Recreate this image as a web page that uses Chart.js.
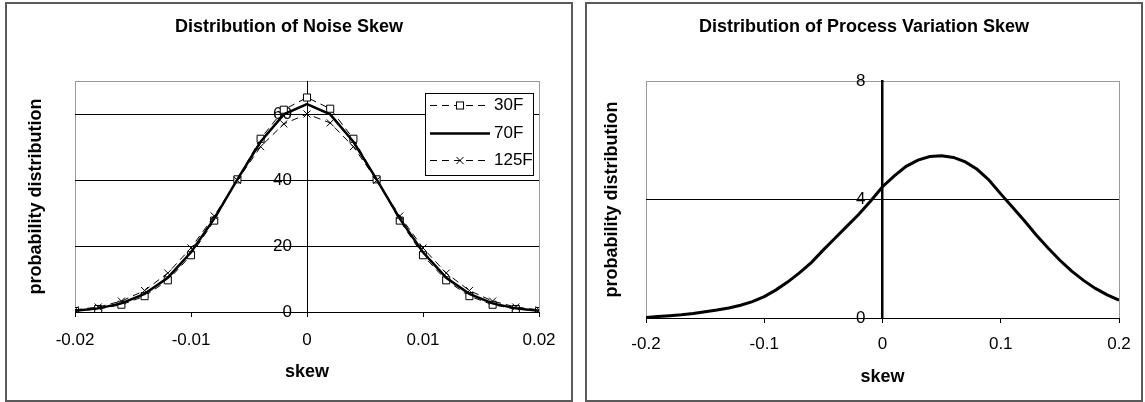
<!DOCTYPE html>
<html><head><meta charset="utf-8">
<script src="https://cdn.jsdelivr.net/npm/chart.js@4.4.1/dist/chart.umd.min.js"></script>
<style>
html,body{margin:0;padding:0;background:#fff;width:1145px;height:402px;overflow:hidden;}
.frame{position:absolute;border:2px solid #5a5a5a;box-sizing:border-box;}
.wrap{position:absolute;}
</style></head><body>
<div class="frame" style="left:5px;top:2px;width:568px;height:400px;"></div>
<div class="frame" style="left:585px;top:2px;width:558px;height:400px;"></div>
<div class="wrap" style="left:6px;top:3px;width:566px;height:398px;"><canvas id="c1" width="566" height="398"></canvas></div>
<div class="wrap" style="left:586px;top:3px;width:556px;height:398px;"><canvas id="c2" width="556" height="398"></canvas></div>
<script>
// ---- data: left chart (noise skew) ----
const skewNoise = [-0.02,-0.018,-0.016,-0.014,-0.012,-0.01,-0.008,-0.006,-0.004,-0.002,0,0.002,0.004,0.006,0.008,0.01,0.012,0.014,0.016,0.018,0.02];
const noise30F  = [0.3,0.9,2.2,4.8,9.6,17.2,27.7,40.2,52.5,61.3,65.0,61.6,52.5,40.2,27.7,17.2,9.6,4.8,2.2,0.9,0.3];
const noise70F  = [0.4,1.1,2.6,5.5,10.4,18.1,28.3,40.2,51.6,59.9,63.0,59.9,51.6,40.2,28.3,18.1,10.4,5.5,2.6,1.1,0.4];
const noise125F = [0.65,1.5,3.3,6.5,11.8,19.4,29.1,39.9,50.1,57.0,60.0,57.3,50.1,39.9,29.1,19.4,11.8,6.5,3.3,1.5,0.65];
const noiseSeriesNames = ['30F','70F','125F'];
const noiseTicksX = [-0.02,-0.01,0,0.01,0.02];
const noiseTicksY = [0,20,40,60];

// ---- data: right chart (process variation skew) ----
const skewProcess = [-0.2,-0.19,-0.18,-0.17,-0.16,-0.15,-0.14,-0.13,-0.12,-0.11,-0.1,-0.09,-0.08,-0.07,-0.06,-0.05,-0.04,-0.03,-0.02,-0.01,0,0.01,0.02,0.03,0.04,0.05,0.06,0.07,0.08,0.09,0.1,0.11,0.12,0.13,0.14,0.15,0.16,0.17,0.18,0.19,0.2];
const processDist = [0.02,0.05,0.08,0.11,0.15,0.21,0.27,0.34,0.43,0.55,0.72,0.95,1.22,1.53,1.88,2.30,2.70,3.10,3.50,3.95,4.43,4.80,5.12,5.33,5.45,5.48,5.42,5.27,5.02,4.66,4.19,3.74,3.28,2.80,2.36,1.95,1.58,1.27,1.00,0.78,0.60];
const processTicksX = [-0.2,-0.1,0,0.1,0.2];
const processTicksY = [0,4,8];

const FONT = "'Liberation Sans', Arial, sans-serif";
const fmt = v => String(Math.round(v * 1000) / 1000);
const pts = (xs, ys) => xs.map((x, i) => ({x: x, y: ys[i]}));

const plotFrame = {
  id: 'plotFrame',
  beforeDraw(chart) {
    const {ctx, chartArea: a} = chart;
    ctx.save();
    ctx.strokeStyle = '#9a9a9a';
    ctx.lineWidth = 1;
    ctx.strokeRect(Math.round(a.left) + 0.5, Math.round(a.top) + 0.5, Math.round(a.right - a.left), Math.round(a.bottom - a.top));
    ctx.restore();
  }
};

const noiseLegend = {
  id: 'noiseLegend',
  afterDatasetsDraw(chart) {
    const {ctx, chartArea: a} = chart;
    const w = 108, h = 82;
    const left = Math.round(a.right - 114), top = Math.round(a.top + 12);
    ctx.save();
    ctx.fillStyle = '#fff';
    ctx.fillRect(left, top, w, h);
    ctx.strokeStyle = '#000';
    ctx.lineWidth = 1;
    ctx.strokeRect(left + 0.5, top + 0.5, w, h);
    const rows = [12, 40, 67];
    chart.data.datasets.forEach((ds, i) => {
      const y = top + rows[i] + 0.5;
      ctx.setLineDash(ds.borderDash || []);
      ctx.lineWidth = ds.borderWidth;
      ctx.strokeStyle = '#000';
      ctx.beginPath(); ctx.moveTo(left + 5, y); ctx.lineTo(left + 65, y); ctx.stroke();
      ctx.setLineDash([]);
      ctx.lineWidth = 1;
      const cx = left + 35, r = ds.pointRadius;
      if (ds.pointStyle === 'rect' && r > 0) {
        const s = r * Math.SQRT1_2;
        ctx.fillStyle = '#fff';
        ctx.fillRect(cx - s, y - s, 2 * s, 2 * s);
        ctx.strokeRect(cx - s, y - s, 2 * s, 2 * s);
      } else if (ds.pointStyle === 'crossRot' && r > 0) {
        const s = r * Math.SQRT1_2;
        ctx.beginPath();
        ctx.moveTo(cx - s, y - s); ctx.lineTo(cx + s, y + s);
        ctx.moveTo(cx - s, y + s); ctx.lineTo(cx + s, y - s);
        ctx.stroke();
      }
      ctx.fillStyle = '#000';
      ctx.font = '17px ' + FONT;
      ctx.textBaseline = 'middle';
      ctx.textAlign = 'left';
      ctx.fillText(ds.label, left + 69, y);
    });
    ctx.restore();
  }
};

function baseOptions(cfg) {
  return {
    responsive: false,
    animation: false,
    devicePixelRatio: 1,
    layout: {padding: 0},
    plugins: {
      legend: {display: false},
      tooltip: {enabled: false},
      title: {display: true, text: cfg.title, color: '#000',
        font: {family: FONT, size: 18, weight: 'bold'},
        padding: {top: 13.2, bottom: 43.2}}
    },
    scales: {
      x: {
        type: 'linear', position: 'bottom', min: cfg.xTicks[0], max: cfg.xTicks[cfg.xTicks.length - 1],
        afterBuildTicks: s => { s.ticks = cfg.xTicks.map(v => ({value: v})); },
        ticks: {color: '#000', font: {family: FONT, size: 17}, padding: cfg.xTickPad, maxRotation: 0, autoSkip: false, callback: v => fmt(v)},
        grid: {drawOnChartArea: false, drawTicks: true, tickLength: 5, color: '#000'},
        border: {display: true, color: '#000', width: 1},
        title: {display: true, text: 'skew', color: '#000', font: {family: FONT, size: 18, weight: 'bold'}, padding: {top: 0, bottom: cfg.xTitlePad}},
        afterFit: s => { s.height = cfg.xHeight; }
      },
      y: {
        type: 'linear', position: 'center', min: 0, max: cfg.yMax,
        afterBuildTicks: s => { s.ticks = cfg.yTicks.map(v => ({value: v})); },
        ticks: {color: '#000', font: {family: FONT, size: 17}, padding: cfg.yTickPad, callback: v => fmt(v)},
        grid: {color: cfg.gridColor, lineWidth: 1, tickLength: 5, drawTicks: true},
        border: {display: true, color: '#000', width: cfg.yAxisWidth},
        afterFit: s => { s.width = 0; }
      },
      yTitle: {
        type: 'linear', position: 'left', display: true,
        ticks: {display: false}, grid: {display: false}, border: {display: false},
        title: {display: true, text: 'probability distribution', color: '#000', font: {family: FONT, size: 18, weight: 'bold'}, padding: {top: cfg.yTitlePad, bottom: 0}},
        afterFit: s => { s.width = cfg.leftW; }
      },
      yRight: {
        type: 'linear', position: 'right', display: true,
        ticks: {display: false}, grid: {display: false}, border: {display: false},
        afterFit: s => { s.width = cfg.rightW; }
      }
    }
  };
}

new Chart(document.getElementById('c1'), {
  type: 'line',
  data: {
    datasets: [
      {label: noiseSeriesNames[0], data: pts(skewNoise, noise30F), borderColor: '#000', borderWidth: 1, borderDash: [7, 5],
       pointStyle: 'rect', pointRadius: 5, pointBackgroundColor: '#fff', pointBorderColor: '#000', pointBorderWidth: 1, tension: 0, order: 3},
      {label: noiseSeriesNames[1], data: pts(skewNoise, noise70F), borderColor: '#000', borderWidth: 2.5,
       pointRadius: 0, tension: 0, order: 2},
      {label: noiseSeriesNames[2], data: pts(skewNoise, noise125F), borderColor: '#000', borderWidth: 1, borderDash: [7, 5],
       pointStyle: 'crossRot', pointRadius: 5, pointBackgroundColor: '#000', pointBorderColor: '#000', pointBorderWidth: 1, tension: 0, order: 1}
    ]
  },
  options: baseOptions({
    title: 'Distribution of Noise Skew', xTicks: noiseTicksX, yTicks: noiseTicksY, yMax: 70,
    xTickPad: 13, xTitlePad: 18, xHeight: 89, yTickPad: 10, yAxisWidth: 1,
    gridColor: '#000', yTitlePad: 19, leftW: 69, rightW: 33
  }),
  plugins: [plotFrame, noiseLegend]
});

new Chart(document.getElementById('c2'), {
  type: 'line',
  data: {
    datasets: [
      {label: 'process', data: pts(skewProcess, processDist), borderColor: '#000', borderWidth: 3,
       pointRadius: 0, tension: 0}
    ]
  },
  options: baseOptions({
    title: 'Distribution of Process Variation Skew', xTicks: processTicksX, yTicks: processTicksY, yMax: 8,
    xTickPad: 11, xTitlePad: 13, xHeight: 83, yTickPad: 12, yAxisWidth: 2.5,
    gridColor: c => (c.tick && c.tick.value === 8 ? '#9a9a9a' : '#000'), yTitlePad: 15, leftW: 60, rightW: 23
  }),
  plugins: [plotFrame]
});
</script>
</body></html>
